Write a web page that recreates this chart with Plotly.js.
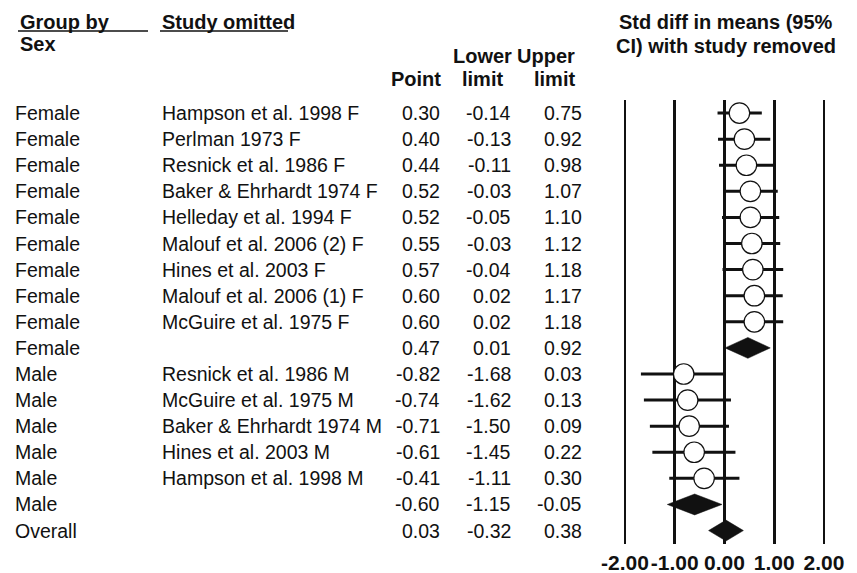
<!DOCTYPE html>
<html>
<head>
<meta charset="utf-8">
<script src="https://cdn.plot.ly/plotly-3.0.1.min.js"></script>
<style>html,body{margin:0;padding:0;background:#fff;}#chart{width:857px;height:573px;}</style>
</head>
<body>
<div id="chart"></div>
<script>
// ---- data ----
const groups = ['Female','Female','Female','Female','Female','Female','Female','Female','Female','Female',
                'Male','Male','Male','Male','Male','Male','Overall'];
const studies = ['Hampson et al. 1998 F','Perlman 1973 F','Resnick et al. 1986 F','Baker & Ehrhardt 1974 F',
                 'Helleday et al. 1994 F','Malouf et al. 2006 (2) F','Hines et al. 2003 F','Malouf et al. 2006 (1) F',
                 'McGuire et al. 1975 F','',
                 'Resnick et al. 1986 M','McGuire et al. 1975 M','Baker & Ehrhardt 1974 M','Hines et al. 2003 M',
                 'Hampson et al. 1998 M','',''];
const pointVals = [0.30,0.40,0.44,0.52,0.52,0.55,0.57,0.60,0.60,0.47,-0.82,-0.74,-0.71,-0.61,-0.41,-0.60,0.03];
const lowerVals = [-0.14,-0.13,-0.11,-0.03,-0.05,-0.03,-0.04,0.02,0.02,0.01,-1.68,-1.62,-1.50,-1.45,-1.11,-1.15,-0.32];
const upperVals = [0.75,0.92,0.98,1.07,1.10,1.12,1.18,1.17,1.18,0.92,0.03,0.13,0.09,0.22,0.30,-0.05,0.38];
const isSummary = [false,false,false,false,false,false,false,false,false,true,false,false,false,false,false,true,true];
const tickVals = [-2,-1,0,1,2];
const tickText = ['-2.00','-1.00','0.00','1.00','2.00'];

// ---- layout helpers ----
const W = 857, H = 573;
const FONT = 'Liberation Sans, Arial, Helvetica, sans-serif';
const ink = '#111';
const px = v => v / W;
const py = v => (H - v) / H;
const rows = pointVals.map((_, i) => i);

// study markers
const studyIdx = rows.filter(i => !isSummary[i]);
const studyTrace = {
  type: 'scatter', mode: 'markers',
  x: studyIdx.map(i => pointVals[i]),
  y: studyIdx,
  marker: {symbol: 'circle', size: 20.5, color: '#fff', line: {color: ink, width: 1.2}},
  error_x: {type: 'data', symmetric: false,
    array: studyIdx.map(i => upperVals[i] - pointVals[i]),
    arrayminus: studyIdx.map(i => pointVals[i] - lowerVals[i]),
    color: ink, thickness: 3, width: 0},
  cliponaxis: false, hoverinfo: 'skip'
};

// summary diamonds
const dh = 0.4;
const dx = [], dy = [];
rows.filter(i => isSummary[i]).forEach(i => {
  dx.push(lowerVals[i], pointVals[i], upperVals[i], pointVals[i], lowerVals[i], null);
  dy.push(i, i - dh, i, i + dh, i, null);
});
const diamondTrace = {
  type: 'scatter', mode: 'lines', x: dx, y: dy,
  fill: 'toself', fillcolor: ink, line: {color: ink, width: 0.5},
  cliponaxis: false, hoverinfo: 'skip'
};

// ---- annotations ----
const ann = [];
const bodyFont = {family: FONT, size: 19.5, color: ink};
const headFont = {family: FONT, size: 20, color: ink, weight: 'bold'};
function addRowText(text, x, row, anchor) {
  ann.push({text: text, xref: 'paper', yref: 'y', x: px(x), y: row, xanchor: anchor, yanchor: 'middle',
            showarrow: false, font: bodyFont});
}
rows.forEach(i => {
  addRowText(groups[i], 13, i, 'left');
  if (studies[i]) addRowText(studies[i], 160, i, 'left');
  addRowText(pointVals[i].toFixed(2), 442, i, 'right');
  addRowText(lowerVals[i].toFixed(2), 513, i, 'right');
  addRowText(upperVals[i].toFixed(2), 584, i, 'right');
});
function addHead(text, x, y, anchor) {
  ann.push({text: text, xref: 'paper', yref: 'paper', x: px(x), y: py(y), xanchor: anchor, yanchor: 'middle',
            showarrow: false, font: headFont});
}
addHead('Group by', 18, 22, 'left');
addHead('Sex', 18, 44, 'left');
addHead('Study omitted', 160, 22, 'left');
addHead('Lower', 482, 56, 'center');
addHead('Upper', 577, 56, 'right');
addHead('Point', 443, 79, 'right');
addHead('limit', 482, 79, 'center');
addHead('limit', 577, 79, 'right');
addHead('Std diff in means (95%', 726, 22, 'center');
addHead('CI) with study removed', 726, 46, 'center');

const shapes = [
  {type: 'line', xref: 'paper', yref: 'paper', x0: px(18), x1: px(148), y0: py(31), y1: py(31), line: {color: ink, width: 1.3}},
  {type: 'line', xref: 'paper', yref: 'paper', x0: px(160), x1: px(288), y0: py(31), y1: py(31), line: {color: ink, width: 1.3}}
];

const layout = {
  width: W, height: H,
  margin: {l: 0, r: 0, t: 0, b: 0, pad: 0},
  paper_bgcolor: '#fff', plot_bgcolor: '#fff',
  showlegend: false, hovermode: false,
  xaxis: {
    domain: [620.025 / W, 828.975 / W],
    range: [-2.1, 2.1],
    tickmode: 'array', tickvals: tickVals, ticktext: tickText, tickangle: 0,
    showgrid: true, gridcolor: ink, gridwidth: 2.7,
    zeroline: false, showline: false, ticks: '',
    ticklabelstandoff: 4,
    tickfont: {family: FONT, size: 21, color: ink, weight: 'bold'},
    fixedrange: true
  },
  yaxis: {
    domain: [py(543.6), py(100)],
    range: [16.5, -0.5],
    showgrid: false, zeroline: false, showticklabels: false, showline: false, ticks: '',
    fixedrange: true
  },
  annotations: ann,
  shapes: shapes
};

Plotly.newPlot('chart', [diamondTrace, studyTrace], layout, {displayModeBar: false, staticPlot: true});
</script>
</body>
</html>
